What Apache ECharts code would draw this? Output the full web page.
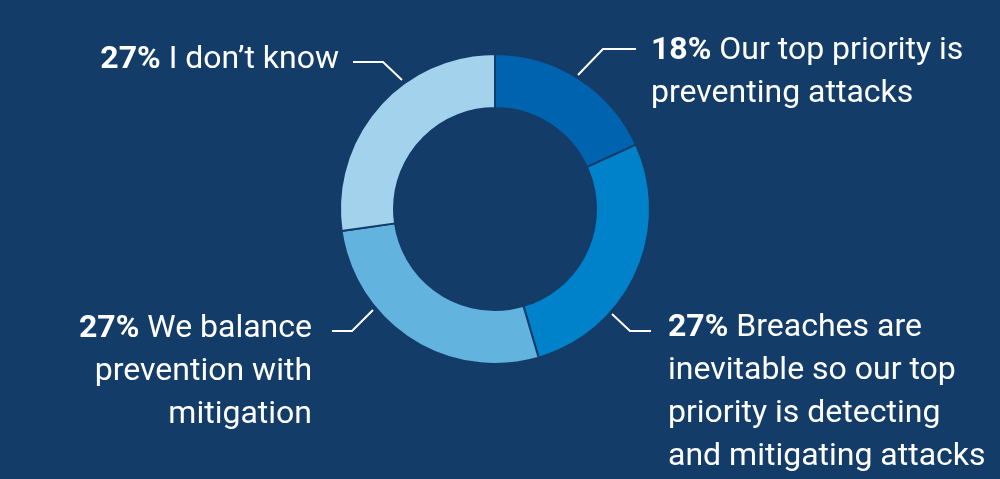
<!DOCTYPE html>
<html>
<head>
<meta charset="utf-8">
<style>
  html, body { margin: 0; padding: 0; background: #133c69; }
  #main { width: 1000px; height: 479px; }
</style>
<script src="https://cdn.jsdelivr.net/npm/echarts@6/dist/echarts.min.js"></script>
</head>
<body>
<div id="main"></div>
<script>
// survey answers, clockwise from 12 o'clock
const shares = [18, 27, 27, 27];
const answers = [
  'Our top priority is\npreventing attacks',
  'Breaches are\ninevitable so our top\npriority is detecting\nand mitigating attacks',
  'We balance\nprevention with\nmitigation',
  'I don\u2019t know'
];
const sliceColors = ['#0063b0', '#0082ca', '#63b3df', '#a3d2ec'];

// where each label and its leader line sit
const labelSpots = [
  { x: 651, y: 29, align: 'left', line: [[578, 75], [603, 49], [636, 49]] },
  { x: 668, y: 306, align: 'left', line: [[612, 314], [630, 331], [651, 331]] },
  { x: 312, y: 307, align: 'right', line: [[373, 310], [352, 331], [332, 331]] },
  { x: 339, y: 38, align: 'right', line: [[402, 80], [383, 62], [353, 62]] }
];

const chart = echarts.init(document.getElementById('main'));

const option = {
  backgroundColor: '#133c69',
  animation: false,
  series: [
    {
      type: 'pie',
      center: [495, 209],
      radius: [101, 155],
      startAngle: 90,
      clockwise: true,
      avoidLabelOverlap: false,
      itemStyle: { borderColor: '#133c69', borderWidth: 2 },
      label: {
        show: true,
        position: 'outside',
        color: '#ffffff',
        fontFamily: 'Roboto',
        fontSize: 32,
        lineHeight: 43,
        formatter: p => '{b|' + p.value + '%} ' + p.name,
        rich: {
          b: { fontWeight: 'bold', fontSize: 32, lineHeight: 43, color: '#ffffff', fontFamily: 'Roboto' }
        }
      },
      labelLine: {
        show: true,
        lineStyle: { color: '#ffffff', width: 2 }
      },
      labelLayout: params => {
        const s = labelSpots[params.dataIndex];
        return {
          x: s.x,
          y: s.y,
          align: s.align,
          verticalAlign: 'top',
          labelLinePoints: s.line
        };
      },
      data: shares.map((v, i) => ({
        value: v,
        name: answers[i],
        itemStyle: { color: sliceColors[i] }
      }))
    }
  ]
};

chart.setOption(option);
</script>
</body>
</html>
